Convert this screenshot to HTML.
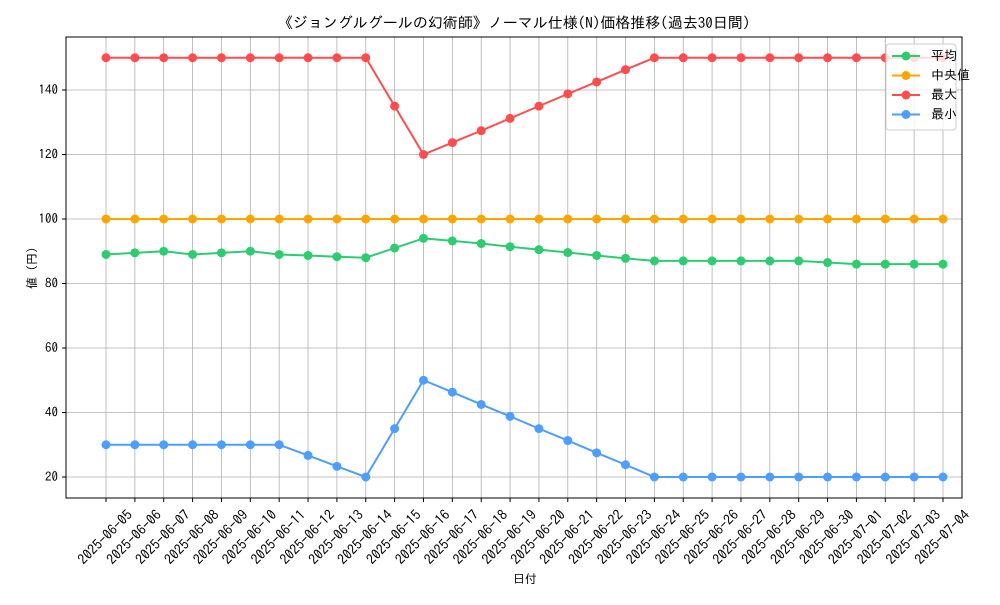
<!DOCTYPE html>
<html><head><meta charset="utf-8"><style>
body{margin:0;background:#fff}
svg text{font-family:"IPAGothic","Liberation Sans","Noto Sans CJK JP",sans-serif;fill:#000}
</style></head><body>
<svg id="chart" width="1000" height="600" xmlns="http://www.w3.org/2000/svg">
<rect width="1000" height="600" fill="#fff"/>
<g id="grid"></g>
<g id="series"></g>
<rect x="66" y="37" width="896" height="461" fill="none" stroke="#000" stroke-width="1"/>
<g id="axes"></g>
<text x="514" y="28" font-size="15" text-anchor="middle">《ジョングルグールの幻術師》ノーマル仕様(N)価格推移(過去30日間)</text>
<text x="525" y="583" font-size="12" text-anchor="middle">日付</text>
<text transform="translate(36,268) rotate(-90)" font-size="12" text-anchor="middle">値 (円)</text>
<g>
<rect x="886" y="44" width="70" height="86" rx="3" fill="#fff" fill-opacity="0.8" stroke="#ccc"/>
<g id="legend-items"></g>
</g>
</svg>
<script>
const dates=["2025-06-05","2025-06-06","2025-06-07","2025-06-08","2025-06-09","2025-06-10","2025-06-11","2025-06-12","2025-06-13","2025-06-14","2025-06-15","2025-06-16","2025-06-17","2025-06-18","2025-06-19","2025-06-20","2025-06-21","2025-06-22","2025-06-23","2025-06-24","2025-06-25","2025-06-26","2025-06-27","2025-06-28","2025-06-29","2025-06-30","2025-07-01","2025-07-02","2025-07-03","2025-07-04"];
const avgVals=[89,89.5,90,89,89.5,90,89,88.7,88.3,88,91,94,93.2,92.4,91.4,90.5,89.6,88.7,87.8,87,87,87,87,87,87,86.5,86,86,86,86];
const medVals=[100,100,100,100,100,100,100,100,100,100,100,100,100,100,100,100,100,100,100,100,100,100,100,100,100,100,100,100,100,100];
const maxVals=[150,150,150,150,150,150,150,150,150,150,135,120,123.7,127.4,131.2,135,138.8,142.5,146.3,150,150,150,150,150,150,150,150,150,150,150];
const minVals=[30,30,30,30,30,30,30,26.7,23.3,20,35,50,46.3,42.5,38.8,35,31.3,27.5,23.8,20,20,20,20,20,20,20,20,20,20,20];
const yTicks=[20,40,60,80,100,120,140];
const seriesNames=["平均","中央値","最大","最小"];
const colors=["#2ecc71","#ffa500","#ff4d4d","#4d9eff"];
const NS="http://www.w3.org/2000/svg";
const x=i=>106+i*(943-106)/(dates.length-1);
const y=v=>477-(v-20)*(477-90)/120;
function mk(p,t,a){const e=document.createElementNS(NS,t);for(const k in a)e.setAttribute(k,a[k]);p.appendChild(e);return e;}
const grid=document.getElementById('grid'),axes=document.getElementById('axes'),ser=document.getElementById('series');
dates.forEach((d,i)=>{
 const g=mk(grid,'line',{x1:x(i),x2:x(i),y1:37,y2:498,stroke:'#b0b0b0','stroke-width':0.8});
 
 const t=mk(axes,'line',{x1:x(i),x2:x(i),y1:498,y2:502,stroke:'#000'});
 
 const l=mk(axes,'text',{'font-size':14,'text-anchor':'middle','dominant-baseline':'central',transform:`translate(${x(i)-1},${537}) rotate(-45)`});
 l.textContent=d;
});
yTicks.forEach(v=>{
 const g=mk(grid,'line',{x1:66,x2:962,y1:y(v),y2:y(v),stroke:'#b0b0b0','stroke-width':0.8});
 
 const t=mk(axes,'line',{x1:62,x2:66,y1:y(v),y2:y(v),stroke:'#000'});
 
 const l=mk(axes,'text',{x:58,y:y(v)+4,'font-size':13,'text-anchor':'end'});
 l.textContent=v;
});
const all=[avgVals,medVals,maxVals,minVals];
const keys=["avg","median","max","min"];
all.forEach((vals,s)=>{
 const pl=mk(ser,'polyline',{points:vals.map((v,i)=>x(i)+','+y(v)).join(' '),fill:'none',stroke:colors[s],'stroke-width':2});
 
 vals.forEach((v,i)=>{const c=mk(ser,'circle',{cx:x(i),cy:y(v),r:4.5,fill:colors[s]});
 });
});
const li=document.getElementById('legend-items');
seriesNames.forEach((n,s)=>{
 const yy=56+s*19.5;
 const g=mk(li,'g',{});
 
 mk(g,'line',{x1:892,x2:920,y1:yy,y2:yy,stroke:colors[s],'stroke-width':2});
 mk(g,'circle',{cx:906,cy:yy,r:4.5,fill:colors[s]});
 const t=mk(g,'text',{x:931,y:yy+4,'font-size':13});t.textContent=n;
});
</script>
</body></html>
